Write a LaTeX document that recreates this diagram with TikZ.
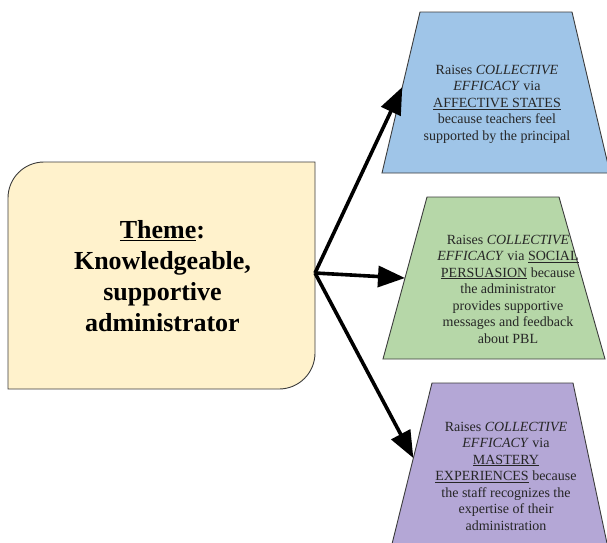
\documentclass[tikz,border=0pt]{standalone}
\usepackage{fontspec}
\setmainfont{Liberation Serif}
\usetikzlibrary{arrows.meta,calc}

\definecolor{themefill}{HTML}{FFF2CC}
\definecolor{bluefill}{HTML}{9FC5E8}
\definecolor{greenfill}{HTML}{B6D7A8}
\definecolor{purplefill}{HTML}{B4A7D6}
\definecolor{edgegray}{HTML}{3C3C3C}
\definecolor{inkgray}{HTML}{262626}

\tikzset{
  trapline/.style={draw=edgegray, line width=0.9pt, line join=miter},
  effect/.style={align=center, font=\fontsize{14}{16.5}\selectfont,
    text=inkgray, inner sep=0pt},
  link/.style={line width=3.6pt, -{Triangle[length=27pt,width=21pt]}}
}

\begin{document}
\begin{tikzpicture}[x=1pt,y=1pt]
  \useasboundingbox (0,0) rectangle (607,-542);

  % theme box with two rounded diagonal corners
  \filldraw[fill=themefill, draw=edgegray, line width=0.9pt] (8,-389) -- (8,-198)
    arc[start angle=180,end angle=90,radius=36pt] -- (315,-162) -- (315,-353)
    arc[start angle=0,end angle=-90,radius=36pt] -- cycle;
  \node[minimum width=307pt, minimum height=227pt, inner sep=0pt, outer sep=0pt,
        align=center, font=\fontsize{26}{31}\selectfont\bfseries, text=black]
    (main) at (162.5,-276.5)
    {\underline{Theme}:\\Knowledgeable,\\supportive\\administrator};

  % corners of the three outcome trapezoids
  \coordinate (b1) at (420,-12);  \coordinate (b2) at (572,-12);
  \coordinate (b3) at (610,-173); \coordinate (b4) at (382,-173);
  \coordinate (g1) at (427,-197); \coordinate (g2) at (559,-197);
  \coordinate (g3) at (605,-359); \coordinate (g4) at (383,-359);
  \coordinate (p1) at (432,-383); \coordinate (p2) at (573,-383);
  \coordinate (p3) at (608,-548); \coordinate (p4) at (391,-548);

  \filldraw[trapline, fill=bluefill]   (b1) -- (b2) -- (b3) -- (b4) -- cycle;
  \filldraw[trapline, fill=greenfill]  (g1) -- (g2) -- (g3) -- (g4) -- cycle;
  \filldraw[trapline, fill=purplefill] (p1) -- (p2) -- (p3) -- (p4) -- cycle;

  \node[effect] (bluetext) at (497,-104)
    {Raises \textit{COLLECTIVE}\\\textit{EFFICACY} via\\\underline{AFFECTIVE STATES}\\because teachers feel\\supported by the principal};
  \node[effect] (greentext) at (508,-289)
    {Raises \textit{COLLECTIVE}\\\textit{EFFICACY} via \underline{SOCIAL}\\\underline{PERSUASION} because\\the administrator\\provides supportive\\messages and feedback\\about PBL};
  \node[effect] (purpletext) at (506,-476)
    {Raises \textit{COLLECTIVE}\\\textit{EFFICACY} via\\\underline{MASTERY}\\\underline{EXPERIENCES} because\\the staff recognizes the\\expertise of their\\administration};

  % connectors from the theme to the left side of each outcome
  \coordinate (hub) at (315,-273);
  \coordinate (bluein)   at ($(b1)!0.466!(b4)$);
  \coordinate (greenin)  at ($(g1)!0.5!(g4)$);
  \coordinate (purplein) at ($(p1)!0.455!(p4)$);
  \draw[link] (hub) -- (bluein);
  \draw[link] (hub) -- (greenin);
  \draw[link] (hub) -- (purplein);
\end{tikzpicture}
\end{document}
